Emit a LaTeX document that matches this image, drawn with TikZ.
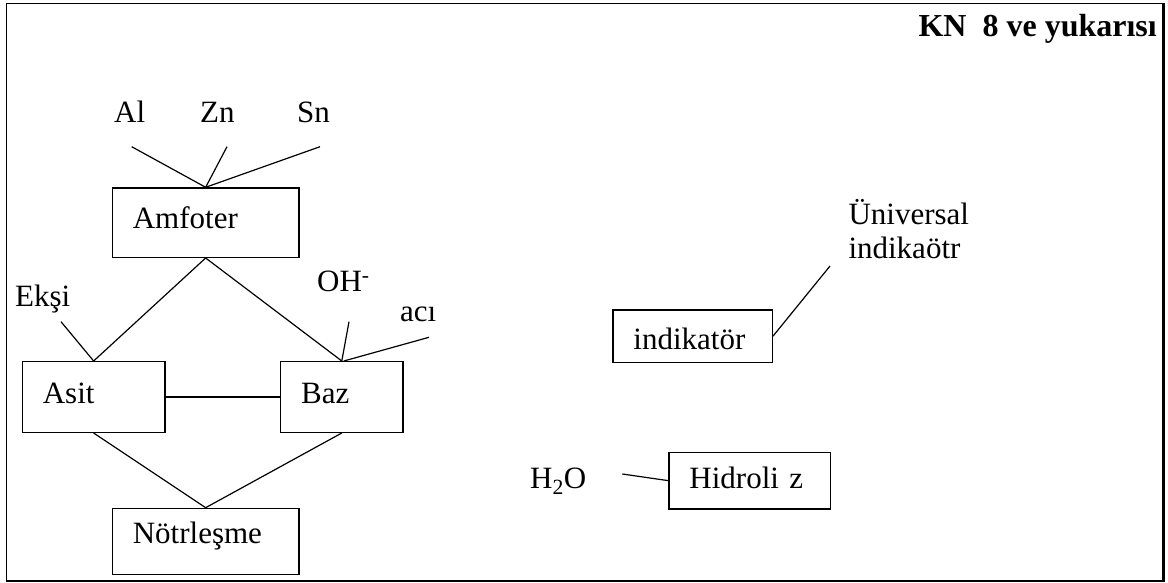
\documentclass[tikz,border=0pt]{standalone}
\usepackage{fontspec}
\setmainfont{Liberation Serif}
\begin{document}
\begin{tikzpicture}[x=1pt,y=-1pt,
  every node/.style={font=\fontsize{31}{37}\selectfont, inner sep=0pt},
  lbl/.style={anchor=base west},
  box/.style={draw, line width=1.3pt, anchor=north west, inner xsep=20.5pt,
    inner ysep=0pt, align=left, text height=21pt, text depth=9pt},
  link/.style={line width=1.2pt}]
\useasboundingbox (0,0) rectangle (1168,583);

% page frame
\draw[line width=1.2pt] (6.5,3.5) rectangle (1163.5,580.5);
\draw[line width=2.5pt] (1163.5,3) -- (1163.5,581.5);
\draw[line width=2pt] (6,581) -- (1164.5,581);

% heading
\node[anchor=base east, font=\fontsize{32}{38}\selectfont\bfseries] (title) at (1157,37) {KN\ \ 8 ve yukarısı};

% boxes
\node[box, text width=145.6pt, minimum height=69.4pt] (amf) at (111.7,187.3) {Amfoter};
\node[box, text width=101.6pt, minimum height=70.7pt] (asit) at (21.7,361) {Asit};
\node[box, text width=81.3pt, minimum height=70.7pt] (baz) at (280,361) {Baz};
\node[box, text width=145.6pt, minimum height=66.3pt, text depth=18pt] (notr) at (111.7,507.7) {Nötrleşme};
\node[box, text width=118.4pt, minimum height=52.4pt, text height=26pt, text depth=0pt] (ind) at (612.3,309.3) {indikatör};
\node[box, text width=120.7pt, minimum height=56.6pt, text height=22pt, text depth=5.4pt] (hid) at (668.3,451.7) {Hidroli z};

% free labels
\node[lbl] (al) at (114,122.7) {Al};
\node[lbl] (zn) at (200,122.7) {Zn};
\node[lbl] (sn) at (297,122.7) {Sn};
\node[lbl] (eksi) at (15,306) {Ekşi};
\node[lbl] (oh) at (317,291.7) {OH\textsuperscript{-}};
\node[lbl] (aci) at (400,321.7) {acı};
\node[lbl, align=left, anchor=base west] (univ) at (848.3,258.3) {Üniversal\\[-3.6pt]indikaötr};
\node[lbl] (water) at (530,488.3) {H\textsubscript{2}O};

% loose ends of the connectors
\coordinate (al-e) at (131.7,146.7);
\coordinate (zn-e) at (227,146.7);
\coordinate (sn-e) at (320,146.7);
\coordinate (eksi-e) at (61,321.7);
\coordinate (oh-e) at (349,321.7);
\coordinate (aci-e) at (429,337.3);
\coordinate (univ-e) at (830,266);
\coordinate (water-e) at (622.3,474);

% connectors
\draw[link] (al-e) -- (amf.north);
\draw[link] (zn-e) -- (amf.north);
\draw[link] (sn-e) -- (amf.north);
\draw[link] (amf.south) -- (asit.north);
\draw[link] (amf.south) -- (baz.north);
\draw[link] (eksi-e) -- (asit.north);
\draw[link] (oh-e) -- (baz.north);
\draw[link] (aci-e) -- ([xshift=2pt]baz.north);
\draw[link] (asit.east) -- (baz.west);
\draw[link] (asit.south) -- (notr.north);
\draw[link] (baz.south) -- (notr.north);
\draw[link] (univ-e) -- (ind.east);
\draw[link] (water-e) -- (hid.west);
\end{tikzpicture}
\end{document}
